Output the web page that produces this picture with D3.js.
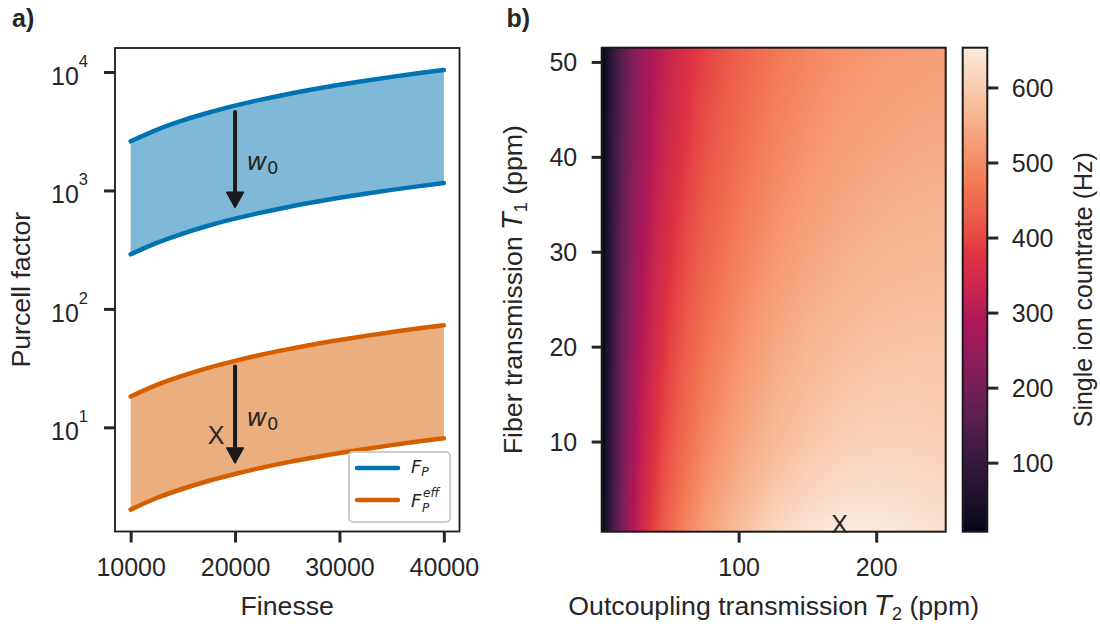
<!DOCTYPE html>
<html>
<head>
<meta charset="utf-8">
<script src="https://cdn.jsdelivr.net/npm/d3@7"></script>
<style>
  body { margin: 0; background: #fff; }
  svg text { font-family: "Liberation Sans", Arial, sans-serif; fill: #262626; }
  svg text.math, svg tspan.math { font-family: "DejaVu Sans", sans-serif; font-style: italic; }
</style>
</head>
<body>
<svg id="fig" width="1100" height="628"></svg>
<script>
// ---------- panel a: Purcell factor vs finesse ----------
const finesse   = [10000, 12500, 15000, 17500, 20000, 22500, 25000, 27500, 30000, 32500, 35000, 37500, 40000];
const fpUpper   = [2600, 3250, 3900, 4550, 5200, 5850, 6500, 7150, 7800, 8450, 9100, 9750, 10400];
const fpLower   = [289, 361, 433, 506, 578, 650, 722, 794, 867, 939, 1011, 1083, 1156];
const effUpper  = [18.2, 22.8, 27.3, 31.9, 36.4, 41.0, 45.5, 50.1, 54.6, 59.2, 63.7, 68.3, 72.8];
const effLower  = [2.02, 2.53, 3.03, 3.54, 4.04, 4.55, 5.06, 5.56, 6.07, 6.57, 7.08, 7.59, 8.09];
const finesseTicks = [10000, 20000, 30000, 40000];
const purcellExponents = [1, 2, 3, 4];
const arrowFinesse = 20000;
const fpArrow  = [4600, 720];   // start, tip
const effArrow = [32.7, 5.0];
const w0LabelFinesse = 21100;
const w0LabelPurcell = [1490, 10.3];
const markerAFinesse = 18175, markerAPurcell = 8.6;

// ---------- panel b: single ion count rate map ----------
const t2Grid = [1, 3, 6, 10, 15, 20, 25, 30, 40, 50, 60, 75, 100, 125, 150, 175, 200, 225, 250];
const t1Grid = [1, 5, 10, 20, 30, 40, 51];
const rateT1_1  = [13, 40, 86, 143, 204, 257, 303, 343, 401, 446, 484, 527, 578, 614, 639, 652, 650, 643, 634];
const rateT1_5  = [12, 39, 83, 139, 199, 251, 295, 333, 389, 432, 467, 509, 557, 591, 614, 628, 631, 628, 622];
const rateT1_10 = [12, 38, 81, 135, 193, 243, 286, 322, 377, 418, 451, 492, 538, 570, 592, 605, 610, 610, 606];
const rateT1_20 = [11, 36, 76, 127, 182, 229, 269, 302, 353, 393, 425, 464, 509, 541, 564, 578, 586, 589, 589];
const rateT1_30 = [10, 34, 72, 120, 173, 216, 253, 284, 333, 370, 401, 438, 482, 514, 537, 552, 562, 567, 569];
const rateT1_40 = [9, 32, 68, 113, 163, 204, 238, 267, 314, 350, 379, 415, 458, 490, 513, 530, 540, 546, 549];
const rateT1_51 = [8, 30, 63, 106, 153, 192, 226, 252, 298, 332, 359, 392, 436, 468, 491, 508, 518, 525, 529];
const rateRange = [8, 653];
const t2Ticks = [100, 200];
const t1Ticks = [10, 20, 30, 40, 50];
const rateTicks = [100, 200, 300, 400, 500, 600];
const markerBT2 = 173.3, markerBT1 = 1.3;
const rocketStops = ["#03051a", "#35193e", "#701f57", "#ad1759", "#e13342", "#f37651", "#f6b48f", "#faebdd"];

const BLUE = "#0173b2", ORANGE = "#d55e00", INK = "#262626", SPINE = "#1a1a1a";
const svg = d3.select("#fig");

// =============== panel a ===============
const xA = d3.scaleLinear().domain([8500, 41500]).range([115, 459.5]);
const yA = d3.scaleLog().domain([1.32, 15950]).range([531.5, 48]);
const gA = svg.append("g");

const band = (lo, hi) => finesse.map((f, i) => ({ f, lo: lo[i], hi: hi[i] }));
const area = d3.area().x(d => xA(d.f)).y0(d => yA(d.lo)).y1(d => yA(d.hi)).curve(d3.curveMonotoneX);
const line = (key) => d3.line().x(d => xA(d.f)).y(d => yA(d[key])).curve(d3.curveMonotoneX);

[[band(fpLower, fpUpper), BLUE], [band(effLower, effUpper), ORANGE]].forEach(([rows, c]) => {
  gA.append("path").attr("d", area(rows)).attr("fill", c).attr("fill-opacity", 0.5);
  ["hi", "lo"].forEach(k => gA.append("path").attr("d", line(k)(rows))
    .attr("fill", "none").attr("stroke", c).attr("stroke-width", 4.5).attr("stroke-linecap", "round"));
});

// arrows showing the effect of the waist w0
function arrow(g, x, yStart, yTip) {
  const headLen = 15, headHalf = 8.3;
  g.append("line").attr("x1", x).attr("x2", x).attr("y1", yStart).attr("y2", yTip - headLen + 2)
    .attr("stroke", "#1a1a1a").attr("stroke-width", 4).attr("stroke-linecap", "round");
  g.append("path")
    .attr("d", `M${x - headHalf},${yTip - headLen} L${x + headHalf},${yTip - headLen} L${x},${yTip} Z`)
    .attr("fill", "#1a1a1a").attr("stroke", "#1a1a1a").attr("stroke-width", 1.5).attr("stroke-linejoin", "round");
}
arrow(gA, xA(arrowFinesse), yA(fpArrow[0]), yA(fpArrow[1]));
arrow(gA, xA(arrowFinesse), yA(effArrow[0]), yA(effArrow[1]));

w0LabelPurcell.forEach(p => {
  const t = gA.append("text").attr("x", xA(w0LabelFinesse)).attr("y", yA(p)).attr("font-size", 25);
  t.append("tspan").attr("class", "math").text("w");
  t.append("tspan").attr("font-family", '"DejaVu Sans", sans-serif').attr("font-size", 18).attr("dy", 4).text("0");
});

gA.append("text").attr("x", xA(markerAFinesse)).attr("y", yA(markerAPurcell)).attr("dy", "0.36em")
  .attr("text-anchor", "middle").attr("font-size", 25).attr("fill", "#111").text("X");

// axes
const axA_x = gA.append("g").attr("transform", "translate(0,531.5)")
  .call(d3.axisBottom(xA).tickValues(finesseTicks).tickSize(11).tickFormat(d3.format("d")));
const axA_y = gA.append("g").attr("transform", "translate(115,0)")
  .call(d3.axisLeft(yA).tickValues(purcellExponents.map(e => Math.pow(10, e))).tickSize(11).tickFormat(() => ""));
[axA_x, axA_y].forEach(ax => {
  ax.select(".domain").remove();
  ax.selectAll(".tick line").attr("stroke", INK).attr("stroke-width", 3);
});
axA_x.selectAll(".tick text").attr("y", 44).attr("dy", 0).attr("font-size", 25).attr("fill", INK)
  .style("font-family", '"Liberation Sans", Arial, sans-serif');
purcellExponents.forEach(e => {
  const y = yA(Math.pow(10, e));
  const t = gA.append("text").attr("x", 88).attr("y", y + 13).attr("text-anchor", "end").attr("font-size", 25);
  t.append("tspan").text("10");
  t.append("tspan").attr("font-size", 16.5).attr("dy", -18).text(String(e));
});

gA.append("rect").attr("x", 115).attr("y", 48).attr("width", 344.5).attr("height", 483.5)
  .attr("fill", "none").attr("stroke", SPINE).attr("stroke-width", 1.8);

gA.append("text").attr("x", xA.range().reduce((a, b) => a + b) / 2).attr("y", 615)
  .attr("text-anchor", "middle").attr("font-size", 26.7).text("Finesse");
gA.append("text").attr("transform", "translate(30,289.7) rotate(-90)")
  .attr("text-anchor", "middle").attr("font-size", 26.7).text("Purcell factor");

// legend
const lg = gA.append("g");
lg.append("rect").attr("x", 349).attr("y", 452).attr("width", 101).attr("height", 70).attr("rx", 4)
  .attr("fill", "#fff").attr("fill-opacity", 0.85).attr("stroke", "#cccccc").attr("stroke-width", 2);
[[BLUE, 468], [ORANGE, 500]].forEach(([c, y]) =>
  lg.append("line").attr("x1", 357).attr("x2", 398).attr("y1", y).attr("y2", y)
    .attr("stroke", c).attr("stroke-width", 4.5).attr("stroke-linecap", "round"));
const l1 = lg.append("text").attr("class", "math").attr("x", 411).attr("y", 473).attr("font-size", 18);
l1.append("tspan").text("F");
l1.append("tspan").attr("font-size", 12.5).attr("dy", 3).text("P");
const l2 = lg.append("text").attr("class", "math").attr("x", 411).attr("y", 506.5).attr("font-size", 18);
l2.append("tspan").text("F");
l2.append("tspan").attr("font-size", 12).attr("x", 423).attr("dy", -9.5).text("eff");
l2.append("tspan").attr("font-size", 12).attr("x", 422).attr("dy", 14.5).text("P");

// =============== panel b ===============
const xB = d3.scaleLinear().domain([0.5, 250.5]).range([601.7, 945.7]);
const yB = d3.scaleLinear().domain([0.5, 51.5]).range([531.7, 47.7]);
const rocket = d3.piecewise(d3.interpolateLab, rocketStops);
const color = d3.scaleSequential(rocket).domain(rateRange);
const rateRows = [rateT1_1, rateT1_5, rateT1_10, rateT1_20, rateT1_30, rateT1_40, rateT1_51];

// bilinear (gouraud-style) shading between the sampled grid values
function rateAt(t2, t1) {
  const locate = (grid, v) => {
    if (v <= grid[0]) return [0, 0, 0];
    if (v >= grid[grid.length - 1]) return [grid.length - 1, grid.length - 1, 0];
    const i = d3.bisectRight(grid, v) - 1;
    return [i, i + 1, (v - grid[i]) / (grid[i + 1] - grid[i])];
  };
  const [c0, c1, fx] = locate(t2Grid, t2);
  const [r0, r1, fy] = locate(t1Grid, t1);
  const a = rateRows[r0][c0] * (1 - fx) + rateRows[r0][c1] * fx;
  const b = rateRows[r1][c0] * (1 - fx) + rateRows[r1][c1] * fx;
  return a * (1 - fy) + b * fy;
}

const [px0, px1] = xB.range(), [py1, py0] = yB.range();
const W = Math.round(px1 - px0), H = Math.round(py1 - py0);
const cv = document.createElement("canvas");
cv.width = W; cv.height = H;
const ctx = cv.getContext("2d");
const img = ctx.createImageData(W, H);
for (let j = 0; j < H; j++) {
  const t1 = yB.invert(py0 + j + 0.5);
  for (let i = 0; i < W; i++) {
    const t2 = xB.invert(px0 + i + 0.5);
    const c = d3.rgb(color(rateAt(t2, t1)));
    const k = (j * W + i) * 4;
    img.data[k] = c.r; img.data[k + 1] = c.g; img.data[k + 2] = c.b; img.data[k + 3] = 255;
  }
}
ctx.putImageData(img, 0, 0);
const gB = svg.append("g");
gB.append("image").attr("x", px0).attr("y", py0).attr("width", px1 - px0).attr("height", py1 - py0)
  .attr("preserveAspectRatio", "none").attr("href", cv.toDataURL());

gB.append("rect").attr("x", px0).attr("y", py0).attr("width", px1 - px0).attr("height", py1 - py0)
  .attr("fill", "none").attr("stroke", SPINE).attr("stroke-width", 2);

const axB_x = gB.append("g").attr("transform", `translate(0,${py1})`)
  .call(d3.axisBottom(xB).tickValues(t2Ticks).tickSize(11).tickFormat(d3.format("d")));
const axB_y = gB.append("g").attr("transform", `translate(${px0},0)`)
  .call(d3.axisLeft(yB).tickValues(t1Ticks).tickSize(10).tickFormat(d3.format("d")));
[axB_x, axB_y].forEach(ax => {
  ax.select(".domain").remove();
  ax.selectAll(".tick line").attr("stroke", INK).attr("stroke-width", 3);
  ax.selectAll(".tick text").attr("font-size", 25).attr("fill", INK)
    .style("font-family", '"Liberation Sans", Arial, sans-serif');
});
axB_x.selectAll(".tick text").attr("y", 44).attr("dy", 0);
axB_y.selectAll(".tick text").attr("x", -24.5).attr("dy", 9);

gB.append("text").attr("x", xB(markerBT2)).attr("y", yB(markerBT1)).attr("dy", "0.36em")
  .attr("text-anchor", "middle").attr("font-size", 25).attr("fill", "#111").text("X");

const xl = gB.append("text").attr("x", (px0 + px1) / 2).attr("y", 615).attr("text-anchor", "middle").attr("font-size", 26.7);
xl.append("tspan").text("Outcoupling transmission ");
xl.append("tspan").attr("class", "math").text("T");
xl.append("tspan").attr("font-size", 18.5).attr("dy", 5).text("2");
xl.append("tspan").attr("dy", -5).text(" (ppm)");

const yl = gB.append("text").attr("transform", `translate(522,${(py0 + py1) / 2}) rotate(-90)`)
  .attr("text-anchor", "middle").attr("font-size", 26.7);
yl.append("tspan").text("Fiber transmission ");
yl.append("tspan").attr("class", "math").text("T");
yl.append("tspan").attr("font-size", 18.5).attr("dy", 5).text("1");
yl.append("tspan").attr("dy", -5).text(" (ppm)");

// colorbar
const cbX = 962.7, cbW = 24.6;
const yC = d3.scaleLinear().domain(rateRange).range([py1, py0]);
const grad = svg.append("defs").append("linearGradient").attr("id", "cbar")
  .attr("x1", 0).attr("y1", 1).attr("x2", 0).attr("y2", 0);
d3.range(0, 1.0001, 0.02).forEach(t =>
  grad.append("stop").attr("offset", t).attr("stop-color", rocket(t)));
gB.append("rect").attr("x", cbX).attr("y", py0).attr("width", cbW).attr("height", py1 - py0)
  .attr("fill", "url(#cbar)").attr("stroke", SPINE).attr("stroke-width", 2);
const axC = gB.append("g").attr("transform", `translate(${cbX + cbW},0)`)
  .call(d3.axisRight(yC).tickValues(rateTicks).tickSize(11).tickFormat(d3.format("d")));
axC.select(".domain").remove();
axC.selectAll(".tick line").attr("stroke", INK).attr("stroke-width", 3);
axC.selectAll(".tick text").attr("x", 24.5).attr("dy", 9).attr("font-size", 25).attr("fill", INK)
  .style("font-family", '"Liberation Sans", Arial, sans-serif');
gB.append("text").attr("transform", `translate(1092,${(py0 + py1) / 2}) rotate(-90)`)
  .attr("text-anchor", "middle").attr("font-size", 25).text("Single ion countrate (Hz)");

// panel letters
svg.append("text").attr("x", 12).attr("y", 27).attr("font-size", 25).attr("font-weight", "bold").text("a)");
svg.append("text").attr("x", 506.5).attr("y", 27).attr("font-size", 25).attr("font-weight", "bold").text("b)");
</script>
</body>
</html>
